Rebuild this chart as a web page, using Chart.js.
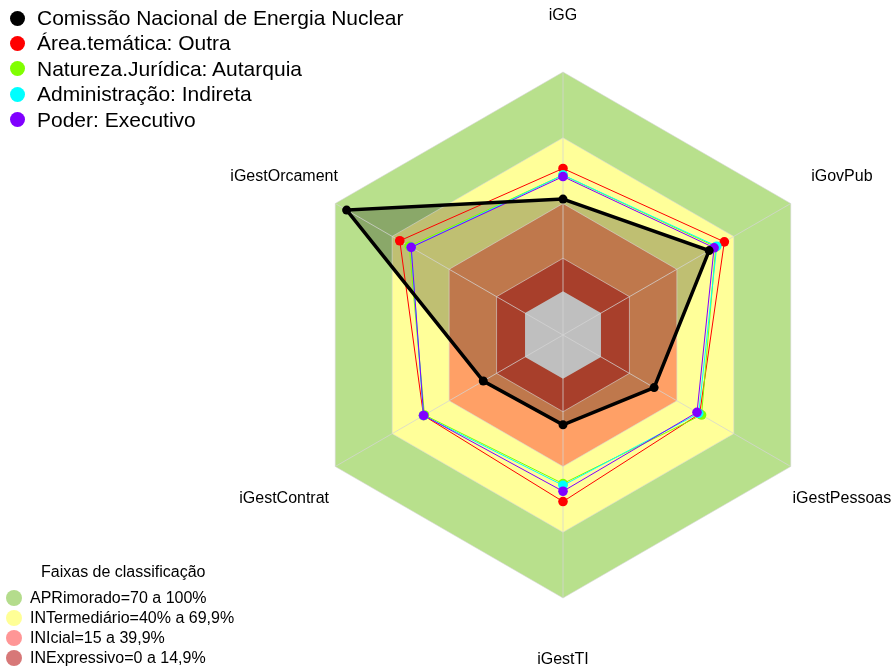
<!DOCTYPE html>
<html>
<head>
<meta charset="utf-8">
<script src="https://cdn.jsdelivr.net/npm/chart.js@4"></script>
<style>
    body { margin: 0; background: #fff; font-family: "Liberation Sans", Arial, sans-serif; }
    #wrap { position: relative; width: 896px; height: 672px; }
    #chart { position: absolute; left: 0; top: 0; }
    .item { position: absolute; white-space: nowrap; color: #000; }
    .dot { position: absolute; border-radius: 50%; }
</style>
</head>
<body>
<div id="wrap">
    <canvas id="chart" width="896" height="672"></canvas>
    <div id="legend-series"></div>
    <div id="legend-bands"></div>
</div>
<script>
const axisLabels = ['iGG', 'iGovPub', 'iGestPessoas', 'iGestTI', 'iGestContrat', 'iGestOrcament'];

const seriesNames = [
    'Comissão Nacional de Energia Nuclear',
    'Área.temática: Outra',
    'Natureza.Jurídica: Autarquia',
    'Administração: Indireta',
    'Poder: Executivo'
];
const seriesColors = ['#000000', '#ff0000', '#80ff00', '#00ffff', '#8000ff'];

const cnenValues      = [0.42, 0.57, 0.28, 0.21, 0.22, 0.94];
const areaValues      = [0.56, 0.65, 0.52, 0.56, 0.535, 0.66];
const naturezaValues  = [0.53, 0.605, 0.53, 0.478, 0.53, 0.61];
const adminValues     = [0.53, 0.61, 0.515, 0.486, 0.535, 0.60];
const poderValues     = [0.523, 0.596, 0.506, 0.513, 0.534, 0.60];
const seriesValues = [cnenValues, areaValues, naturezaValues, adminValues, poderValues];

// classification bands, outer limit of each; the last one (0) is the empty centre
const bandNames = ['APRimorado=70 a 100%', 'INTermediário=40% a 69,9%', 'INIcial=15 a 39,9%', 'INExpressivo=0 a 14,9%'];
const bandLimits = [1.0, 0.7, 0.4, 0.15, 0];
const bandColors = ['#b8e08c', '#ffff99', '#ffa066', '#e0553a', '#ffffff'];
const bandLegendColors = ['#b4dc8c', '#ffff96', '#ff9696', '#d77878'];

const scaleMin = -0.2;
const scaleMax = 1.0;

// legends as plain html
function buildLegends() {
    const top = document.getElementById('legend-series');
    const topY = [18, 43, 68.5, 94, 119.5];
    seriesNames.forEach((name, i) => {
        const dot = document.createElement('div');
        dot.className = 'dot';
        dot.style.cssText = `left:10px;top:${topY[i] - 7.5}px;width:15px;height:15px;background:${seriesColors[i]}`;
        top.appendChild(dot);
        const txt = document.createElement('div');
        txt.className = 'item';
        txt.style.cssText = `left:37px;top:${topY[i] - 13}px;font-size:21px;line-height:26px`;
        txt.textContent = name;
        top.appendChild(txt);
    });

    const bottom = document.getElementById('legend-bands');
    const title = document.createElement('div');
    title.className = 'item';
    title.style.cssText = 'left:41px;top:562px;font-size:16px;line-height:20px';
    title.textContent = 'Faixas de classificação';
    bottom.appendChild(title);
    const bandY = [597.5, 617.5, 637.5, 657.5];
    bandNames.forEach((name, i) => {
        const dot = document.createElement('div');
        dot.className = 'dot';
        dot.style.cssText = `left:6px;top:${bandY[i] - 8}px;width:16px;height:16px;background:${bandLegendColors[i]}`;
        bottom.appendChild(dot);
        const txt = document.createElement('div');
        txt.className = 'item';
        txt.style.cssText = `left:30px;top:${bandY[i] - 10}px;font-size:16px;line-height:20px`;
        txt.textContent = name;
        bottom.appendChild(txt);
    });
}

const axisLabelPlugin = {
    id: 'axisLabelPlugin',
    afterDraw(chart) {
        const scale = chart.scales.r;
        const ctx = chart.ctx;
        ctx.save();
        ctx.font = '16px "Liberation Sans", Arial, sans-serif';
        ctx.fillStyle = '#000';
        ctx.textAlign = 'center';
        ctx.textBaseline = 'middle';
        axisLabels.forEach((label, i) => {
            const p = scale.getPointPosition(i, 322);
            ctx.fillText(label, p.x, p.y + 3);
        });
        ctx.restore();
    }
};

const datasets = [];
seriesValues.forEach((vals, i) => {
    const isMain = i === 0;
    datasets.push({
        label: seriesNames[i],
        data: vals,
        borderColor: seriesColors[i],
        backgroundColor: isMain ? 'rgba(0,0,0,0.25)' : seriesColors[i],
        borderWidth: isMain ? 3.5 : 1,
        pointRadius: isMain ? 4.5 : 4.8,
        pointBorderWidth: 0,
        pointBackgroundColor: seriesColors[i],
        fill: isMain ? 'start' : false,
        order: isMain ? 0 : seriesValues.length - i
    });
});
bandLimits.forEach((limit, i) => {
    datasets.push({
        label: 'band' + i,
        data: axisLabels.map(() => limit),
        borderColor: limit > 0 ? 'rgba(215,215,215,0.6)' : 'rgba(0,0,0,0)',
        backgroundColor: bandColors[i],
        borderWidth: 1,
        pointRadius: 0,
        fill: 'start',
        order: 100 - i
    });
});

buildLegends();

new Chart(document.getElementById('chart').getContext('2d'), {
    type: 'radar',
    data: { labels: axisLabels, datasets: datasets },
    options: {
        responsive: false,
        animation: false,
        layout: { padding: { left: 300, right: 70, top: 72, bottom: 74 } },
        plugins: {
            legend: { display: false },
            tooltip: { enabled: false },
            // fills go under the angle lines, lines and points above them
            filler: { drawTime: 'beforeDraw' }
        },
        elements: { line: { tension: 0 } },
        scales: {
            r: {
                min: scaleMin,
                max: scaleMax,
                ticks: { display: false },
                grid: { display: false },
                angleLines: { color: 'rgba(212,212,212,0.75)', lineWidth: 1 },
                pointLabels: { display: false }
            }
        }
    },
    plugins: [axisLabelPlugin]
});
</script>
</body>
</html>
